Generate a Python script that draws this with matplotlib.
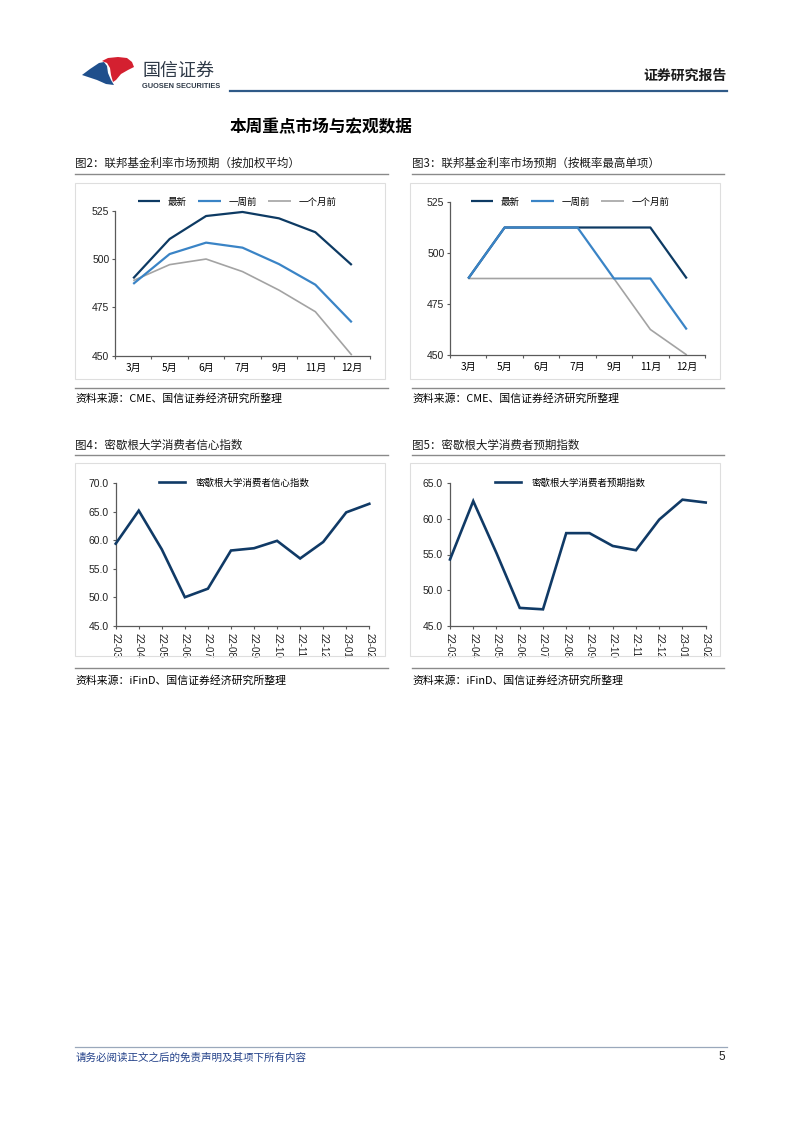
import matplotlib
matplotlib.use('Agg')
import matplotlib.pyplot as plt
from matplotlib.patches import Polygon, Rectangle
from matplotlib.lines import Line2D

plt.rcParams['font.family'] = ['Noto Sans CJK SC', 'DejaVu Sans']

W, H = 802, 1133

# ---------------- data ----------------
months = ['3月', '5月', '6月', '7月', '9月', '11月', '12月']
series_names = ['最新', '一周前', '一个月前']
wavg_latest = [490.1, 510.5, 522.4, 524.5, 521.2, 514.0, 497.0]
wavg_week = [487.2, 502.7, 508.6, 506.0, 497.5, 486.8, 467.3]
wavg_month = [488.9, 497.2, 500.1, 493.6, 484.0, 472.8, 450.3]
mode_latest = [487.5, 512.5, 512.5, 512.5, 512.5, 512.5, 487.5]
mode_week = [487.5, 512.5, 512.5, 512.5, 487.5, 487.5, 462.5]
mode_month = [487.5, 487.5, 487.5, 487.5, 487.5, 462.5, 450.0]
rate_ticks = [450, 475, 500, 525]

dates = ['22-03', '22-04', '22-05', '22-06', '22-07', '22-08', '22-09',
         '22-10', '22-11', '22-12', '23-01', '23-02']
sentiment = [59.4, 65.2, 58.4, 50.0, 51.5, 58.2, 58.6, 59.9, 56.8, 59.7, 64.9, 66.4]
expectations = [54.3, 62.5, 55.2, 47.5, 47.3, 58.0, 58.0, 56.2, 55.6, 59.9, 62.7, 62.3]
sent_ticks = [45, 50, 55, 60, 65, 70]
exp_ticks = [45, 50, 55, 60, 65]
sent_name = '密歇根大学消费者信心指数'
exp_name = '密歇根大学消费者预期指数'

C_LATEST = '#0d3a63'
C_WEEK = '#3a84c6'
C_MONTH = '#a3a3a3'
C_NAVY = '#103a66'
SPINE = '#5a5a5a'

fig = plt.figure(figsize=(W / 100, H / 100), dpi=100)
fig.patch.set_facecolor('white')


def fx(x):
    return x / W


def fy(y):
    return 1 - y / H


def ax_px(x0, y0, x1, y1):
    return fig.add_axes([fx(x0), fy(y1), (x1 - x0) / W, (y1 - y0) / H])


def hline(x0, x1, y, color, lw):
    fig.add_artist(Line2D([fx(x0), fx(x1)], [fy(y), fy(y)], color=color, lw=lw,
                          transform=fig.transFigure))


def box(x0, y0, x1, y1):
    fig.add_artist(Rectangle((fx(x0), fy(y1)), (x1 - x0) / W, (y1 - y0) / H,
                             transform=fig.transFigure, fill=False,
                             edgecolor='#dedede', lw=0.8))


# ---------------- header ----------------
blue_pts = [(82, 75), (90, 69), (99, 63), (104, 62), (107, 66), (108, 73), (111, 80),
            (114, 85), (106, 84), (97, 80)]
red_pts = [(102, 61), (108, 58), (118, 57), (127, 58), (132, 62), (134, 67), (128, 70),
           (121, 74), (116, 80), (113, 82), (111, 75), (110, 68), (107, 63)]
fig.add_artist(Polygon([(fx(x), fy(y)) for x, y in blue_pts], closed=True,
                       transform=fig.transFigure, facecolor='#1f4f8c', edgecolor='none'))
fig.add_artist(Polygon([(fx(x), fy(y)) for x, y in red_pts], closed=True,
                       transform=fig.transFigure, facecolor='#d42030', edgecolor='none'))
fig.text(fx(142), fy(71), '国信证券', fontsize=13, color='#2f3a48', va='center', ha='left')
fig.text(fx(142), fy(86.5), 'GUOSEN SECURITIES', fontsize=5.3, color='#2f3a48',
         va='center', ha='left', fontweight='bold', family=['Liberation Sans'])
fig.text(fx(727), fy(76), '证券研究报告', fontsize=10, fontweight='bold', color='#1a1a1a',
         va='center', ha='right')
hline(230, 727, 91, '#2f5a88', 1.6)
fig.text(fx(230), fy(127), '本周重点市场与宏观数据', fontsize=12, fontweight='bold',
         color='black', va='center', ha='left')

# ---------------- frames / titles ----------------
titles = [('图2：联邦基金利率市场预期（按加权平均）', 75, 163),
          ('图3：联邦基金利率市场预期（按概率最高单项）', 412, 163),
          ('图4：密歇根大学消费者信心指数', 75, 445),
          ('图5：密歇根大学消费者预期指数', 412, 445)]
for t, x, y in titles:
    fig.text(fx(x), fy(y), t, fontsize=8.3, color='#1a1a1a', va='center', ha='left')

hline(75, 388, 174, '#8a8a8a', 1.0)
hline(412, 724, 174, '#8a8a8a', 1.0)
hline(75, 388, 455, '#8a8a8a', 1.0)
hline(412, 724, 455, '#8a8a8a', 1.0)
hline(75, 388, 388, '#8a8a8a', 1.0)
hline(412, 724, 388, '#8a8a8a', 1.0)
hline(75, 388, 668, '#8a8a8a', 1.0)
hline(412, 724, 668, '#8a8a8a', 1.0)

fig.text(fx(75), fy(398), '资料来源：CME、国信证券经济研究所整理', fontsize=7.8, va='center', ha='left')
fig.text(fx(412), fy(398), '资料来源：CME、国信证券经济研究所整理', fontsize=7.8, va='center', ha='left')
fig.text(fx(75), fy(680), '资料来源：iFinD、国信证券经济研究所整理', fontsize=7.8, va='center', ha='left')
fig.text(fx(412), fy(680), '资料来源：iFinD、国信证券经济研究所整理', fontsize=7.8, va='center', ha='left')

box(75, 183, 385, 379)
box(410, 183, 720, 379)
box(75, 463, 385, 656)
box(410, 463, 720, 656)


def style_axes(ax):
    for s in ['top', 'right']:
        ax.spines[s].set_visible(False)
    for s in ['left', 'bottom']:
        ax.spines[s].set_color(SPINE)
        ax.spines[s].set_linewidth(0.9)
    ax.set_facecolor('none')
    ax.tick_params(axis='both', colors=SPINE, length=2.5, width=0.8, labelcolor='#222222')


def rate_chart(ax, latest, week, month, legend_center):
    x = list(range(len(months)))
    ax.plot(x, latest, color=C_LATEST, lw=1.6, zorder=3, label=series_names[0], solid_capstyle='butt')
    ax.plot(x, week, color=C_WEEK, lw=1.6, zorder=4, label=series_names[1], solid_capstyle='butt')
    ax.plot(x, month, color=C_MONTH, lw=1.2, zorder=2, label=series_names[2], solid_capstyle='butt')
    ax.set_xlim(-0.5, len(months) - 0.5)
    ax.set_ylim(rate_ticks[0], rate_ticks[-1])
    style_axes(ax)
    ax.set_yticks(rate_ticks)
    ax.set_yticklabels([str(v) for v in rate_ticks], fontsize=7.5, family=['Liberation Sans'])
    ax.set_xticks([i - 0.5 for i in range(len(months) + 1)])
    ax.set_xticklabels([])
    ax.set_xticks(x, minor=True)
    ax.set_xticklabels(months, minor=True, fontsize=7.3)
    ax.tick_params(axis='x', which='minor', length=0, pad=5)
    ax.tick_params(axis='y', pad=1.5)
    for l in ax.get_lines():
        l.set_clip_on(False)
    handles = [ax.get_lines()[0], ax.get_lines()[1], ax.get_lines()[2]]
    fig.legend(handles, series_names, loc='center',
               bbox_to_anchor=(fx(legend_center[0]), fy(legend_center[1])),
               bbox_transform=fig.transFigure, ncol=3, frameon=False, fontsize=6.8,
               handlelength=2.4, handletextpad=0.8, columnspacing=1.2, borderpad=0)


ax1 = ax_px(115, 211, 370, 355.7)
rate_chart(ax1, wavg_latest, wavg_week, wavg_month, (237, 202))
ax2 = ax_px(450, 202, 705, 355)
rate_chart(ax2, mode_latest, mode_week, mode_month, (570, 202))


def index_chart(ax, values, ticks, name, legend_center):
    x = list(range(len(dates)))
    ln, = ax.plot(x, values, color=C_NAVY, lw=1.9, zorder=3, solid_joinstyle='miter')
    ax.set_xlim(0, len(dates) - 1)
    ax.set_ylim(ticks[0], ticks[-1])
    style_axes(ax)
    ax.set_yticks(ticks)
    ax.set_yticklabels(['%.1f' % v for v in ticks], fontsize=7.5, family=['Liberation Sans'])
    ax.set_xticks(x)
    ax.set_xticklabels(dates, rotation=-90, fontsize=7.0, family=['Liberation Sans'])
    ax.tick_params(axis='x', pad=3)
    ax.tick_params(axis='y', pad=2.5)
    ln.set_clip_on(False)
    fig.legend([ln], [name], loc='center',
               bbox_to_anchor=(fx(legend_center[0]), fy(legend_center[1])),
               bbox_transform=fig.transFigure, frameon=False, fontsize=6.8,
               handlelength=2.8, handletextpad=1.1, borderpad=0)


ax3 = ax_px(115.7, 483.3, 369.3, 625.7)
index_chart(ax3, sentiment, sent_ticks, sent_name, (234, 483))
ax4 = ax_px(450, 483.3, 705.7, 625.7)
index_chart(ax4, expectations, exp_ticks, exp_name, (570, 483))

# ---------------- footer ----------------
hline(75, 727, 1047, '#9aa8bb', 0.9)
fig.text(fx(76), fy(1057.5), '请务必阅读正文之后的免责声明及其项下所有内容', fontsize=7.6,
         color='#24428a', style='italic', va='center', ha='left')
fig.text(fx(725), fy(1057.5), '5', fontsize=8.5, color='#222222', va='center', ha='right',
         family=['Liberation Sans'])

fig.savefig('out.png', dpi=100, facecolor='white')
